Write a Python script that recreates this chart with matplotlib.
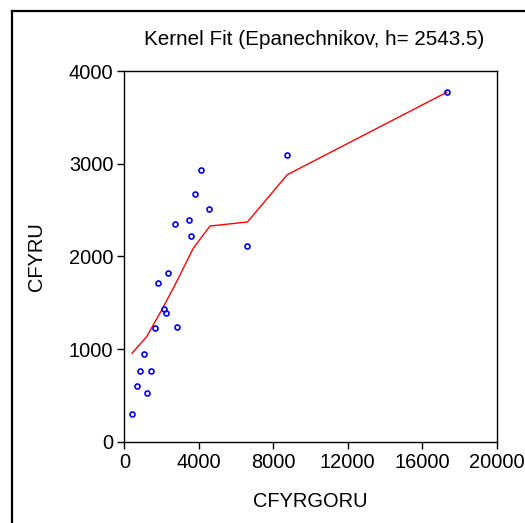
import matplotlib
matplotlib.use("Agg")
import matplotlib.pyplot as plt
from matplotlib.lines import Line2D

plt.rcParams.update({
    "font.family": ["Liberation Sans", "DejaVu Sans"],
    "font.size": 14.4,
})

cfyrgoru = [403, 656, 817, 1064, 1225, 1424, 1655, 1816, 2138, 2214, 2353,
            2713, 2821, 3466, 3589, 3815, 4094, 4524, 6566, 8747, 17312]
cfyru = [296, 604, 766, 943, 522, 760, 1224, 1716, 1429, 1389, 1817,
         2349, 1234, 2392, 2220, 2669, 2935, 2508, 2108, 3090, 3770]

# kernel fit curve
fit_x = [403, 1193, 1999, 2714, 3697, 4594, 6609, 8748, 17312]
fit_y = [954, 1133, 1421, 1691, 2087, 2327, 2371, 2881, 3770]

fig = plt.figure(figsize=(5.25, 5.23), dpi=100)
ax = fig.add_axes([0.2371, 0.1555, 0.7089, 0.7087])

ax.plot(fit_x, fit_y, color="red", linewidth=1.0, zorder=2)
ax.plot(cfyrgoru, cfyru, linestyle="none", marker="o", markersize=3.6,
        markerfacecolor="none", markeredgecolor="blue", markeredgewidth=1.2,
        zorder=3)

ax.set_xlim(0, 20000)
ax.set_ylim(0, 4000)
ax.set_xticks([0, 4000, 8000, 12000, 16000, 20000])
ax.set_yticks([0, 1000, 2000, 3000, 4000])
ax.tick_params(direction="out", length=5, width=1, pad=3)
ax.tick_params(top=False, right=False)
for s in ax.spines.values():
    s.set_linewidth(1.0)

ax.set_xlabel("CFYRGORU", labelpad=14.5)
ax.set_ylabel("CFYRU", labelpad=16.5)
ax.set_title("Kernel Fit (Epanechnikov, h= 2543.5)", fontsize=14.9, pad=19,
             x=0.509)

# outer frame (top and left edges only visible in the crop)
fig.add_artist(Line2D([11.5 / 525, 11.5 / 525], [0, 1 - 10.5 / 523],
                      transform=fig.transFigure, color="black", linewidth=1.6))
fig.add_artist(Line2D([11.5 / 525, 1], [1 - 10.5 / 523, 1 - 10.5 / 523],
                      transform=fig.transFigure, color="black", linewidth=1.6))

fig.savefig("out.png", dpi=100)
